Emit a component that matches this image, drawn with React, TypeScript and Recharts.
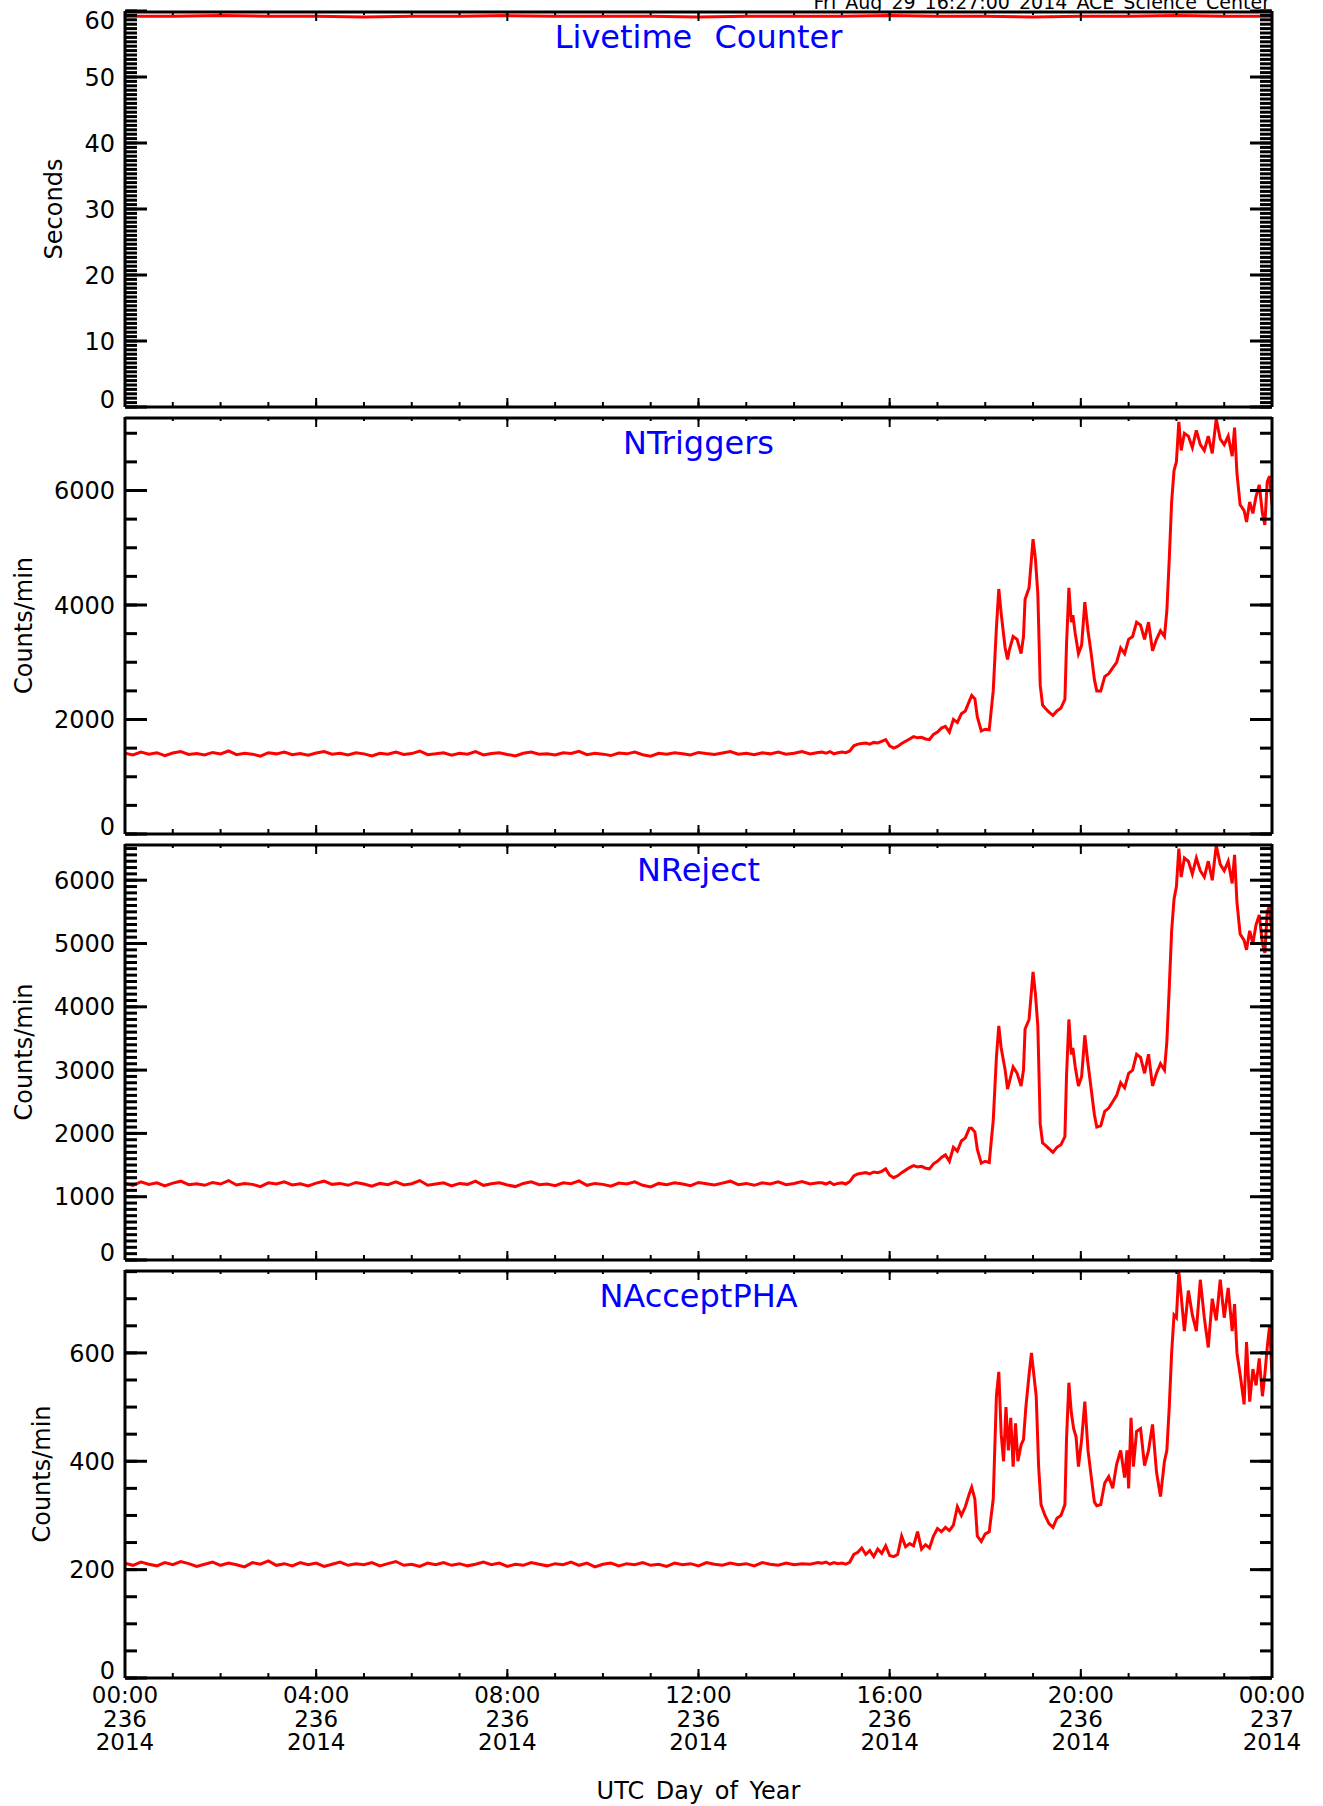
import React from 'react'
import { LineChart, Line, XAxis, YAxis } from 'recharts'

const W = 1323
const PLOT_LEFT = 125
const PLOT_RIGHT = 1272
const FONT = '"DejaVu Sans", sans-serif'

// minutes after 00:00 UT, day 236
const quietTimes = Array.from({ length: 88 }, (_, i) => i * 10)
const liveTimes = [0, 60, 120, 180, 240, 300, 360, 420, 480, 540, 600, 660, 720, 780, 840, 900, 960, 1020, 1080, 1140, 1200, 1260, 1320, 1380, 1440]
const activeTimes = [
  875, 880, 885, 890, 895, 900, 905, 910, 915, 920,
  925, 930, 935, 940, 945, 950, 955, 960, 965, 970,
  975, 980, 985, 990, 995, 1000, 1005, 1010, 1015, 1020,
  1025, 1030, 1035, 1040, 1045, 1050, 1055, 1060, 1063, 1067,
  1070, 1075, 1080, 1085, 1090, 1094, 1097, 1100, 1105, 1108,
  1110, 1115, 1120, 1125, 1128, 1130, 1135, 1140, 1143, 1146,
  1149, 1152, 1155, 1160, 1165, 1170, 1175, 1180, 1182, 1185,
  1188, 1190, 1193, 1197, 1201, 1205, 1209, 1213, 1217, 1220,
  1225, 1230, 1235, 1240, 1245, 1250, 1255, 1260, 1265, 1270,
  1275, 1280, 1285, 1290, 1295, 1300, 1305, 1308, 1311, 1314,
  1317, 1320, 1323, 1326, 1330, 1335, 1340, 1345, 1350, 1355,
  1360, 1365, 1370, 1375, 1380, 1385, 1390, 1393, 1396, 1400,
  1405, 1408, 1412, 1416, 1420, 1424, 1428, 1431, 1434, 1437,
  1440,
]
const accTimes = [
  875, 880, 885, 890, 895, 900, 905, 910, 915, 920,
  925, 930, 935, 940, 945, 950, 955, 960, 965, 970,
  975, 980, 985, 990, 995, 1000, 1005, 1010, 1015, 1020,
  1025, 1030, 1035, 1040, 1045, 1050, 1055, 1060, 1063, 1067,
  1070, 1075, 1080, 1085, 1090, 1094, 1097, 1100, 1103, 1106,
  1109, 1112, 1115, 1118, 1121, 1125, 1128, 1131, 1135, 1138,
  1141, 1144, 1147, 1150, 1155, 1160, 1165, 1170, 1175, 1180,
  1182, 1185, 1188, 1191, 1194, 1197, 1201, 1205, 1209, 1213,
  1217, 1220, 1225, 1230, 1235, 1240, 1245, 1250, 1255, 1258,
  1260, 1263, 1266, 1270, 1275, 1280, 1285, 1290, 1295, 1300,
  1305, 1308, 1311, 1314, 1317, 1320, 1323, 1326, 1330, 1335,
  1340, 1345, 1350, 1355, 1360, 1365, 1370, 1375, 1380, 1385,
  1390, 1393, 1396, 1400, 1405, 1408, 1412, 1416, 1420, 1424,
  1428, 1431, 1434, 1437, 1440,
]

const livetime = [59.2, 59.2, 59.3, 59.2, 59.2, 59.1, 59.2, 59.2, 59.3, 59.2, 59.2, 59.2, 59.1, 59.2, 59.2, 59.2, 59.3, 59.2, 59.2, 59.1, 59.2, 59.2, 59.3, 59.2, 59.2]

const ntrigQuiet = [
  1410, 1380, 1430, 1395, 1420, 1370, 1415, 1440, 1390, 1405,
  1380, 1425, 1400, 1450, 1385, 1410, 1395, 1360, 1420, 1400,
  1430, 1385, 1405, 1375, 1415, 1440, 1395, 1410, 1380, 1420,
  1400, 1365, 1410, 1395, 1430, 1390, 1405, 1450, 1385, 1400,
  1420, 1375, 1410, 1395, 1440, 1380, 1405, 1420, 1390, 1365,
  1410, 1430, 1395, 1400, 1380, 1420, 1405, 1445, 1385, 1410,
  1395, 1370, 1415, 1400, 1430, 1385, 1360, 1410, 1395, 1420,
  1400, 1380, 1425, 1405, 1390, 1415, 1440, 1395, 1410, 1385,
  1420, 1400, 1430, 1395, 1410, 1440, 1400, 1425,
]
const ntrigActive = [
  1430, 1410, 1440, 1400, 1420, 1430, 1420, 1450, 1540, 1570,
  1580, 1590, 1570, 1600, 1590, 1620, 1650, 1540, 1500, 1530,
  1580, 1620, 1660, 1700, 1680, 1690, 1660, 1650, 1740, 1780,
  1850, 1880, 1780, 2000, 1950, 2100, 2150, 2320, 2420, 2360,
  2050, 1800, 1830, 1820, 2500, 3600, 4280, 3850, 3250, 3050,
  3200, 3450, 3400, 3150, 3450, 4100, 4300, 5150, 4800, 4200,
  2600, 2250, 2200, 2130, 2070, 2150, 2200, 2350, 3300, 4300,
  3700, 3820, 3500, 3150, 3300, 4050, 3550, 3150, 2700, 2500,
  2500, 2750, 2800, 2900, 3000, 3250, 3150, 3400, 3450, 3700,
  3650, 3400, 3700, 3200, 3400, 3550, 3450, 3900, 4800, 5800,
  6350, 6500, 7200, 6700, 7000, 6950, 6750, 7050, 6800, 6700,
  6950, 6650, 7250, 6900, 6800, 6950, 6600, 7100, 6300, 5750,
  5650, 5450, 5800, 5600, 5900, 6100, 5600, 5400, 6150, 6250,
  5750,
]

const nrejQuiet = [
  1210, 1180, 1235, 1195, 1220, 1170, 1215, 1245, 1190, 1205,
  1180, 1225, 1200, 1255, 1185, 1210, 1195, 1160, 1220, 1200,
  1235, 1185, 1205, 1170, 1215, 1245, 1195, 1210, 1180, 1225,
  1200, 1165, 1210, 1190, 1235, 1185, 1205, 1255, 1180, 1200,
  1220, 1170, 1210, 1195, 1245, 1180, 1205, 1220, 1185, 1160,
  1210, 1235, 1190, 1200, 1175, 1220, 1205, 1250, 1180, 1210,
  1195, 1165, 1215, 1200, 1235, 1180, 1155, 1210, 1190, 1220,
  1200, 1175, 1225, 1205, 1185, 1215, 1245, 1190, 1210, 1180,
  1220, 1200, 1235, 1190, 1210, 1240, 1200, 1220,
]
const nrejActive = [
  1220, 1200, 1230, 1190, 1210, 1220, 1200, 1240, 1330, 1360,
  1370, 1380, 1360, 1390, 1380, 1400, 1440, 1340, 1300, 1330,
  1380, 1420, 1460, 1490, 1470, 1480, 1450, 1440, 1520, 1560,
  1620, 1660, 1560, 1780, 1720, 1880, 1930, 2080, 2080, 2020,
  1750, 1530, 1560, 1540, 2200, 3200, 3700, 3350, 3000, 2700,
  2800, 3050, 2950, 2750, 3000, 3650, 3800, 4550, 4200, 3700,
  2150, 1850, 1820, 1760, 1700, 1780, 1820, 1950, 2900, 3800,
  3250, 3350, 3050, 2750, 2900, 3550, 3100, 2700, 2300, 2100,
  2120, 2350, 2400, 2500, 2600, 2800, 2720, 2950, 3000, 3250,
  3200, 2950, 3250, 2750, 2950, 3100, 3000, 3450, 4300, 5200,
  5700, 5900, 6500, 6050, 6350, 6300, 6100, 6350, 6150, 6050,
  6300, 6000, 6550, 6250, 6150, 6300, 5950, 6400, 5650, 5150,
  5050, 4900, 5200, 5000, 5300, 5450, 5000, 4850, 5500, 5600,
  5100,
]

const naccQuiet = [
  212, 208, 214, 210, 207, 213, 209, 215, 211, 206,
  210, 214, 208, 212, 209, 205, 213, 210, 216, 208,
  211, 207, 213, 209, 212, 206, 210, 214, 208, 211,
  209, 213, 207, 211, 215, 208, 210, 206, 212, 209,
  213, 208, 211, 207, 210, 214, 209, 212, 206, 210,
  208, 213, 210, 207, 211, 209, 214, 208, 212, 205,
  210, 212, 207, 211, 209, 213, 208, 210, 206, 212,
  209, 211, 207, 213, 210, 208, 212, 209, 211, 207,
  213, 210, 208, 212, 209, 211, 210, 213,
]
const naccActive = [
  212, 214, 210, 213, 211, 212, 210, 214, 228, 232,
  240, 228, 235, 224, 238, 230, 244, 226, 224, 228,
  262, 242, 248, 244, 270, 238, 246, 240, 262, 276,
  270, 278, 272, 282, 316, 300, 316, 340, 352, 330,
  262, 252, 266, 270, 330, 520, 565, 450, 400, 500,
  420, 480, 390, 470, 400, 430, 440, 500, 560, 600,
  560, 520, 390, 320, 300, 285, 278, 295, 300, 320,
  440, 545, 490, 460, 445, 390, 440, 510, 420, 372,
  325, 318, 320, 360, 372, 350, 395, 420, 370, 420,
  350, 480, 390, 455, 460, 392, 420, 468, 380, 335,
  400, 420, 500, 600, 670, 665, 750, 705, 640, 715,
  670, 640, 735, 665, 610, 700, 660, 735, 665, 720,
  640, 690, 600, 560, 505, 620, 510, 570, 540, 590,
  520, 560, 610, 650, 560,
]

const hourTicks = Array.from({ length: 25 }, (_, i) => i * 60)
const majorHourTicks = [0, 240, 480, 720, 960, 1200, 1440]
const xTickLabels = [
  ['00:00', '236', '2014'],
  ['04:00', '236', '2014'],
  ['08:00', '236', '2014'],
  ['12:00', '236', '2014'],
  ['16:00', '236', '2014'],
  ['20:00', '236', '2014'],
  ['00:00', '237', '2014'],
]

const pairs = (times: number[], vals: number[]) =>
  times.slice(0, vals.length).map((t, i) => ({ t, v: vals[i] }))

const range = (max: number, step: number) => {
  const out: number[] = []
  for (let i = 0; i * step <= max + 1e-6; i++) out.push(+(i * step).toFixed(4))
  return out
}

// renders no label, so only the tick line is drawn
const NoLabel = () => <g />

const XTick = (props: any) => {
  const { x, y, payload } = props
  const lines = xTickLabels[majorHourTicks.indexOf(payload.value)] || []
  return (
    <g>
      {lines.map((s, i) => (
        <text key={i} x={x} y={y + 25 + i * 23.5} textAnchor="middle" fontSize={23} fontFamily={FONT} fill="#000">
          {s}
        </text>
      ))}
    </g>
  )
}

const makeYTick = (max: number) => (props: any) => {
  const { x, y, payload } = props
  let dy = 0
  if (payload.value === 0) dy = -8
  else if (payload.value === max) dy = 9
  return (
    <text x={x} y={y + dy} dy="0.36em" textAnchor="end" fontSize={24} fontFamily={FONT} fill="#000">
      {payload.value}
    </text>
  )
}

interface PanelProps {
  top: number
  height: number
  max: number
  data: { t: number; v: number }[]
  majors: number[]
  minors: number[]
  showX?: boolean
}

function Panel({ top, height, max, data, majors, minors, showX }: PanelProps) {
  const padTop = 10
  const padBottom = showX ? 0 : 10
  const labelH = showX ? 90 : 0
  const axisLine = { stroke: '#000', strokeWidth: 3 }
  const yTickLine = { stroke: '#000', strokeWidth: 3 }
  const xTickLine = { stroke: '#000', strokeWidth: 2 }
  const dom: [number, number] = [0, max]
  const xdom: [number, number] = [0, 1440]
  return (
    <div style={{ position: 'absolute', left: 0, top: top - padTop }}>
      <LineChart
        width={W}
        height={height + padTop + padBottom + labelH}
        data={data}
        margin={{ top: padTop, right: W - PLOT_RIGHT, bottom: padBottom, left: PLOT_LEFT - 120 }}
      >
        {/* mirrored axes draw the frame and the inward ticks */}
        <XAxis xAxisId="b" dataKey="t" type="number" domain={xdom} allowDataOverflow orientation="bottom" mirror height={1}
          ticks={majorHourTicks} interval={0} tickSize={9} tick={NoLabel} axisLine={axisLine} tickLine={xTickLine} />
        <XAxis xAxisId="bm" dataKey="t" type="number" domain={xdom} allowDataOverflow orientation="bottom" mirror height={1}
          ticks={hourTicks} interval={0} tickSize={4} tick={NoLabel} axisLine={false} tickLine={xTickLine} />
        <XAxis xAxisId="tp" dataKey="t" type="number" domain={xdom} allowDataOverflow orientation="top" mirror height={1}
          ticks={majorHourTicks} interval={0} tickSize={9} tick={NoLabel} axisLine={axisLine} tickLine={xTickLine} />
        <XAxis xAxisId="tm" dataKey="t" type="number" domain={xdom} allowDataOverflow orientation="top" mirror height={1}
          ticks={hourTicks} interval={0} tickSize={4} tick={NoLabel} axisLine={false} tickLine={xTickLine} />
        {showX && (
          <XAxis xAxisId="lab" dataKey="t" type="number" domain={xdom} allowDataOverflow orientation="bottom" height={labelH}
            ticks={majorHourTicks} interval={0} tickSize={0} tickMargin={0} axisLine={false} tickLine={false} tick={<XTick />} />
        )}
        <YAxis yAxisId="l" type="number" domain={dom} allowDataOverflow orientation="left" mirror width={1}
          ticks={majors} interval={0} tickSize={22} tick={NoLabel} axisLine={axisLine} tickLine={yTickLine} />
        <YAxis yAxisId="lm" type="number" domain={dom} allowDataOverflow orientation="left" mirror width={1}
          ticks={minors} interval={0} tickSize={11} tick={NoLabel} axisLine={false} tickLine={yTickLine} />
        <YAxis yAxisId="r" type="number" domain={dom} allowDataOverflow orientation="right" mirror width={1}
          ticks={majors} interval={0} tickSize={22} tick={NoLabel} axisLine={axisLine} tickLine={yTickLine} />
        <YAxis yAxisId="rm" type="number" domain={dom} allowDataOverflow orientation="right" mirror width={1}
          ticks={minors} interval={0} tickSize={11} tick={NoLabel} axisLine={false} tickLine={yTickLine} />
        <YAxis yAxisId="lab" type="number" domain={dom} allowDataOverflow orientation="left" width={120}
          ticks={majors} interval={0} tickSize={0} tickMargin={10} axisLine={false} tickLine={false} tick={makeYTick(max)} />
        <Line xAxisId="b" yAxisId="l" dataKey="v" type="linear" stroke="#ff0000" strokeWidth={3} dot={false}
          isAnimationActive={false} />
      </LineChart>
    </div>
  )
}

const panels = [
  { top: 11, height: 396, max: 60, data: pairs(liveTimes, livetime), majors: range(60, 10), minors: range(60, 10 / 15), title: 'Livetime Counter', yLabel: 'Seconds', yLabelX: 54 },
  { top: 417, height: 417, max: 7284, data: [...pairs(quietTimes, ntrigQuiet), ...pairs(activeTimes, ntrigActive)], majors: range(6000, 2000), minors: range(7000, 500), title: 'NTriggers', yLabel: 'Counts/min', yLabelX: 24 },
  { top: 844, height: 416, max: 6572, data: [...pairs(quietTimes, nrejQuiet), ...pairs(activeTimes, nrejActive)], majors: range(6000, 1000), minors: range(6500, 100), title: 'NReject', yLabel: 'Counts/min', yLabelX: 24 },
  { top: 1270, height: 408, max: 753, data: [...pairs(quietTimes, naccQuiet), ...pairs(accTimes, naccActive)], majors: range(600, 200), minors: range(750, 50), title: 'NAcceptPHA', yLabel: 'Counts/min', yLabelX: 42 },
]

export default function App() {
  const cx = (PLOT_LEFT + PLOT_RIGHT) / 2
  return (
    <div style={{ position: 'absolute', left: 0, top: 0, width: W, height: 1806, background: '#fff', overflow: 'hidden' }}>
      {panels.map((p, i) => (
        <Panel key={p.title} top={p.top} height={p.height} max={p.max} data={p.data} majors={p.majors} minors={p.minors} showX={i === panels.length - 1} />
      ))}
      <svg width={W} height={1806} style={{ position: 'absolute', left: 0, top: 0, pointerEvents: 'none' }}>
        <text x={1270} y={9} textAnchor="end" fontSize={19} fontFamily={FONT} fill="#000" wordSpacing={3}>
          Fri Aug 29 16:27:00 2014 ACE Science Center
        </text>
        {panels.map((p) => (
          <g key={p.title}>
            <text x={cx} y={p.top + 37} textAnchor="middle" fontSize={32} fontFamily={FONT} fill="#0000ff" wordSpacing={12}>
              {p.title}
            </text>
            <text x={p.yLabelX} y={p.top + p.height / 2} transform={`rotate(-90 ${p.yLabelX} ${p.top + p.height / 2})`}
              textAnchor="middle" dominantBaseline="central" fontSize={24} fontFamily={FONT} fill="#000">
              {p.yLabel}
            </text>
          </g>
        ))}
        <text x={cx} y={1799} textAnchor="middle" fontSize={24} fontFamily={FONT} fill="#000" wordSpacing={4}>
          UTC Day of Year
        </text>
      </svg>
    </div>
  )
}
